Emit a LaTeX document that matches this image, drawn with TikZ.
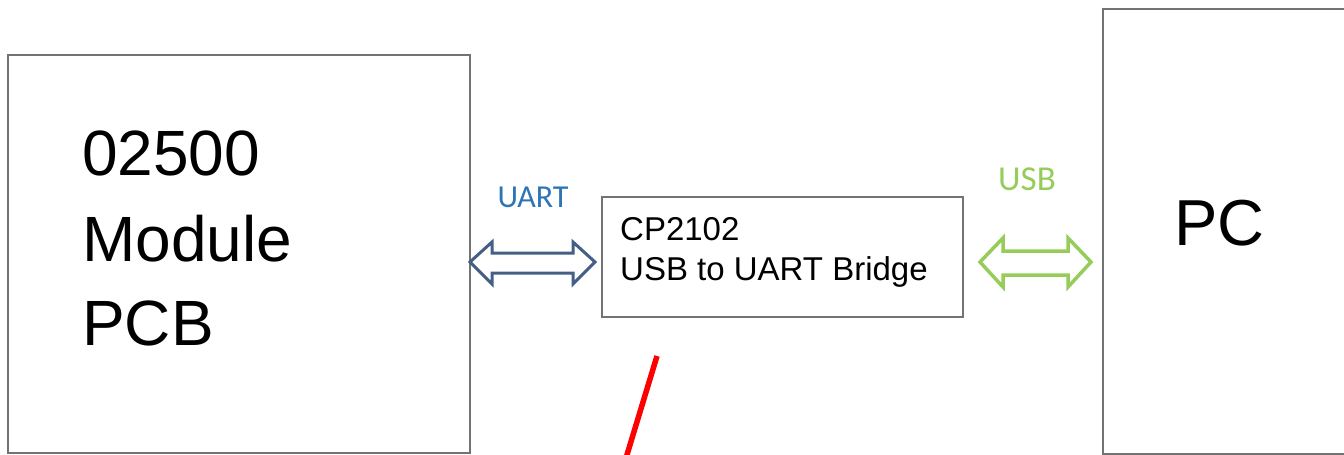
\documentclass[tikz,border=0pt]{standalone}
\usepackage{fontspec}
\setmainfont{Liberation Sans}
\newfontfamily\labelfont{Carlito}
\definecolor{boxgray}{RGB}{115,115,115}
\definecolor{uartblue}{RGB}{46,117,182}
\definecolor{arrowblue}{RGB}{68,94,134}
\definecolor{usbgreen}{RGB}{150,205,90}
\begin{document}
\begin{tikzpicture}[x=1pt,y=-1pt,
  blockbox/.style={draw=boxgray, line width=1.6pt, fill=white, inner sep=0pt, outer sep=0pt},
  bigtext/.style={anchor=base west, inner sep=0pt, font=\fontsize{64}{70}\selectfont},
  midtext/.style={anchor=base west, inner sep=0pt, font=\fontsize{33}{38}\selectfont},
  linklabel/.style={anchor=base, inner sep=0pt, font=\labelfont\fontsize{32}{36}\selectfont},
  dblarrow/.style={line width=3pt, line join=miter, fill=white}]
\clip (0,0) rectangle (1344,455);
\fill[white] (0,0) rectangle (1344,455);
% boxes
\node[blockbox, minimum width=462pt, minimum height=398pt] (mod) at (239,254) {};
\node[blockbox, minimum width=361pt, minimum height=120pt] (cp) at (782.5,257) {};
\node[blockbox, minimum width=260pt, minimum height=445pt] (pc) at (1233,231.5) {};
% texts
\node[bigtext] (mod1) at (82,175) {02500};
\node[bigtext] (mod2) at (82,261) {Module};
\node[bigtext] (mod3) at (82,345) {PCB};
\node[midtext] (cp1) at (620,240) {CP2102};
\node[midtext] (cp2) at (620,280) {USB to UART Bridge};
\node[bigtext, font=\fontsize{65}{70}\selectfont] (pc1) at (1174,245) {PC};
\node[linklabel, text=uartblue] (uart) at (533,207) {UART};
\node[linklabel, text=usbgreen, font=\labelfont\fontsize{35}{38}\selectfont] (usb) at (1027,190) {USB};
% double arrows
\draw[dblarrow, draw=arrowblue] (470,262) -- (492,242) -- (492,253) -- (573,253) -- (573,242)
  -- (595,262) -- (573,284) -- (573,273) -- (492,273) -- (492,284) -- cycle;
\draw[dblarrow, draw=usbgreen, line width=3.5pt] (980,262) -- (1003,238) -- (1003,251) -- (1068,251) -- (1068,238)
  -- (1091,262) -- (1068,287) -- (1068,275) -- (1003,275) -- (1003,287) -- cycle;
% red mark
\coordinate (r1) at (657,356);
\coordinate (r2) at (626,458);
\draw[red, line width=5.5pt] (r1) -- (r2);
\end{tikzpicture}
\end{document}
